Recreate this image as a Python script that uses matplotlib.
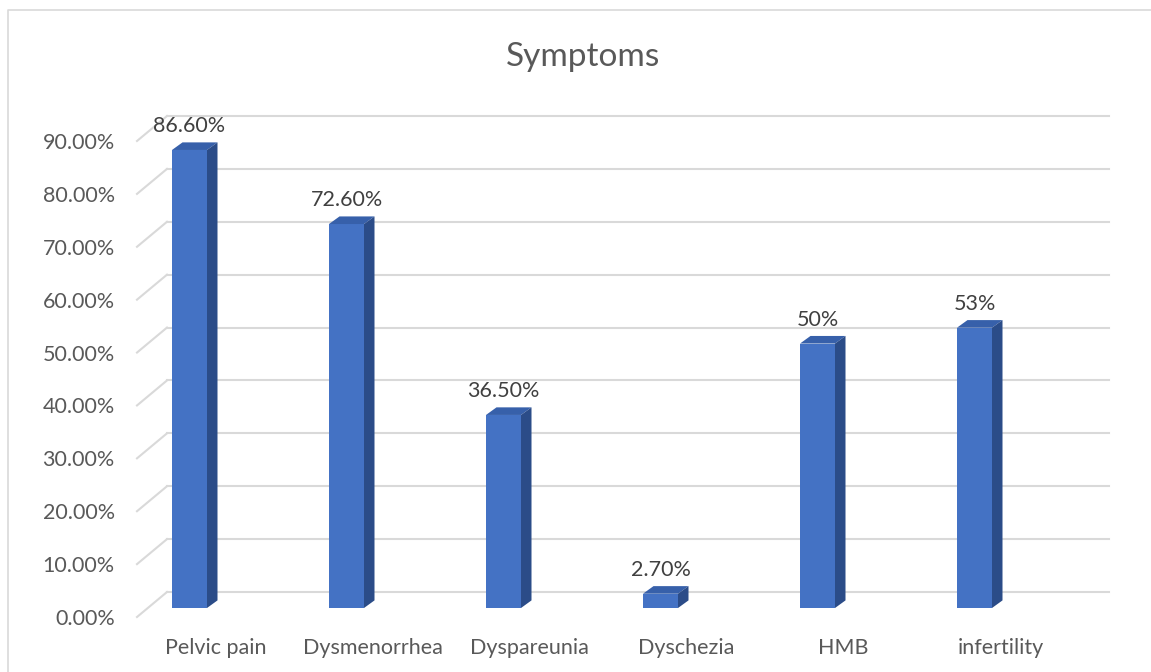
import matplotlib.pyplot as plt
import matplotlib.transforms as mtransforms
from matplotlib.patches import Polygon
from matplotlib.lines import Line2D

plt.rcParams['font.family'] = ['Lato', 'DejaVu Sans']

symptoms = ["Pelvic pain", "Dysmenorrhea", "Dyspareunia", "Dyschezia", "HMB", "infertility"]
percent = [86.6, 72.6, 36.5, 2.7, 50, 53]
value_labels = ["86.60%", "72.60%", "36.50%", "2.70%", "50%", "53%"]
ticks = [0, 10, 20, 30, 40, 50, 60, 70, 80, 90]

DPI = 100
W, H = 1151, 672
fig = plt.figure(figsize=(W / DPI, H / DPI), dpi=DPI)

# front floor plane of the 3-D chart
ax = fig.add_axes([137 / W, (H - 617) / H, 942 / W, 476 / H])
ax.set_xlim(-0.5, len(symptoms) - 0.5)
ax.set_ylim(0, 90)
for s in ax.spines.values():
    s.set_visible(False)
ax.set_xticks(range(len(symptoms)))
ax.set_xticklabels(symptoms, fontsize=15.5, color="#595959")
ax.set_yticks(ticks)
ax.set_yticklabels([f"{t:.2f}%" for t in ticks], fontsize=15.5, color="#595959")
ax.tick_params(length=0)
ax.tick_params(axis="y", pad=16)
ax.tick_params(axis="x", pad=15)

def px(dx, dy):
    return mtransforms.ScaledTranslation(dx / DPI, dy / DPI, fig.dpi_scale_trans)

# back wall gridlines and the floor diagonals on the left
back = ax.transData + px(30, 25)
for t in ticks:
    ax.plot([-0.5, len(symptoms) - 0.5], [t, t], color="#D9D9D9", lw=1.5,
            transform=back, clip_on=False, zorder=1)
    front_pt = ax.transData.transform((-0.5, t))
    back_pt = back.transform((-0.5, t))
    fig.add_artist(Line2D([front_pt[0], back_pt[0]], [front_pt[1], back_pt[1]],
                          color="#D9D9D9", lw=1.5, transform=None))

# bars: front face via ax.bar, top and side faces as parallelograms
bar_w = 35 / 157
bar_trans = ax.transData + px(-26, 9)
depth_x, depth_y = 10.5, 7.6
ax.bar(range(len(symptoms)), percent, width=bar_w, color="#4472C4",
       transform=bar_trans, zorder=3, clip_on=False)
for i, v in enumerate(percent):
    x0, y0 = bar_trans.transform((i - bar_w / 2, 0))
    x1, y1 = bar_trans.transform((i + bar_w / 2, v))
    top = [(x0, y1), (x1, y1), (x1 + depth_x, y1 + depth_y), (x0 + depth_x, y1 + depth_y)]
    side = [(x1, y0), (x1 + depth_x, y0 + depth_y), (x1 + depth_x, y1 + depth_y), (x1, y1)]
    fig.add_artist(Polygon(top, closed=True, facecolor="#3760AA", edgecolor="none",
                           transform=None, zorder=4))
    fig.add_artist(Polygon(side, closed=True, facecolor="#2B4C88", edgecolor="none",
                           transform=None, zorder=4))
    fig.text((x0 + x1) / 2 / W, (y1 + 24) / H, value_labels[i],
             ha="center", va="center", fontsize=15.5, color="#404040")

fig.text(583 / W, (H - 57) / H, "Symptoms", ha="center", va="center",
         fontsize=24, color="#595959")

# chart border (left and top edges visible)
fig.add_artist(Line2D([8, 8, W + 5], [-5, H - 10, H - 10], color="#D9D9D9",
                      lw=1.2, transform=None))

fig.savefig("out.png", dpi=DPI)
